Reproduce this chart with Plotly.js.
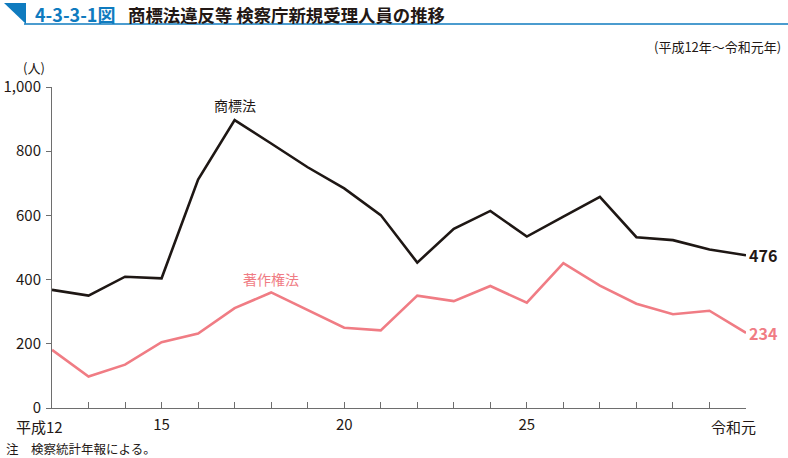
<!DOCTYPE html>
<html>
<head>
<meta charset="utf-8">
<script src="https://cdn.plot.ly/plotly-3.0.1.min.js"></script>
<style>body{margin:0;background:#fff;}#chart{width:788px;height:458px;}</style>
</head>
<body>
<div id="chart"></div>
<script>
var years = [2000,2001,2002,2003,2004,2005,2006,2007,2008,2009,2010,2011,2012,2013,2014,2015,2016,2017,2018,2019];
var trademark = [368,350,409,404,712,897,824,750,684,601,453,558,614,534,596,658,532,523,494,476];
var copyright = [181,98,135,205,232,311,360,305,250,242,350,333,380,328,451,381,325,292,303,234];
var tickVals = years;
var tickText = ['','','','15','','','','','20','','','','','25','','','','','',''];
var firstLabel = '平成12';
var lastLabel = '令和元';
var yTicks = [0,200,400,600,800,1000];
var yTickText = ['0','200','400','600','800','1,000'];

var F = '"Noto Sans CJK JP", "Noto Sans", sans-serif';
var L = 52, R = 746, T = 87, B = 408;
function px(x){ return (x - L) / (R - L); }
function py(y){ return (B - y) / (B - T); }

var black = '#1e1714', pink = '#f07c84', blue = '#0f7bbf', txt = '#231815';

var traces = [
  {x: years, y: trademark, type: 'scatter', mode: 'lines', line: {color: black, width: 2.6}, hoverinfo: 'skip'},
  {x: years, y: copyright, type: 'scatter', mode: 'lines', line: {color: pink, width: 2.6}, hoverinfo: 'skip'}
];

var layout = {
  width: 788, height: 458,
  margin: {l: L, r: 788 - R, t: T, b: 458 - B},
  paper_bgcolor: '#fff', plot_bgcolor: '#fff',
  showlegend: false,
  font: {family: F, color: txt},
  xaxis: {
    range: [2000, 2019], tickmode: 'array', tickvals: tickVals, ticktext: tickText,
    showgrid: false, zeroline: false, showline: true, linecolor: '#6e6e6e', linewidth: 1,
    ticks: 'inside', ticklen: 6, tickcolor: '#6e6e6e', tickfont: {size: 15, color: txt},
    ticklabelstandoff: 3,
    fixedrange: true
  },
  yaxis: {
    range: [0, 1000], tickmode: 'array', tickvals: yTicks, ticktext: yTickText,
    showgrid: false, zeroline: false, showline: true, linecolor: '#6e6e6e', linewidth: 1,
    ticks: 'outside', ticklen: 5, tickcolor: '#6e6e6e', tickfont: {size: 15, color: txt},
    ticklabelstandoff: 2,
    fixedrange: true
  },
  shapes: [
    {type: 'path', xref: 'paper', yref: 'paper',
     path: 'M ' + px(4) + ' ' + py(3) + ' L ' + px(26) + ' ' + py(3) + ' L ' + px(26) + ' ' + py(24) + ' Z',
     fillcolor: blue, line: {width: 0}},
    {type: 'line', xref: 'paper', yref: 'paper', x0: px(24), x1: px(788), y0: py(24), y1: py(24),
     line: {color: blue, width: 1.5}}
  ],
  annotations: [
    {xref: 'paper', yref: 'paper', x: px(33), y: py(14), xanchor: 'left', yanchor: 'middle', showarrow: false,
     text: '<b>4-3-3-1図</b>', font: {family: F, size: 18, color: blue}},
    {xref: 'paper', yref: 'paper', x: px(126), y: py(14), xanchor: 'left', yanchor: 'middle', showarrow: false,
     text: '<b>商標法違反等 検察庁新規受理人員の推移</b>', font: {family: F, size: 17.4, color: txt}},
    {xref: 'paper', yref: 'paper', x: px(783), y: py(47), xanchor: 'right', yanchor: 'middle', showarrow: false,
     text: '(平成12年～令和元年)', font: {family: F, size: 13, color: txt}},
    {xref: 'paper', yref: 'paper', x: px(46), y: py(67), xanchor: 'right', yanchor: 'middle', showarrow: false,
     borderpad: 0, text: '(人)', font: {family: F, size: 13, color: txt}},
    {xref: 'paper', yref: 'paper', x: px(39), y: py(426), xanchor: 'center', yanchor: 'middle', showarrow: false,
     borderpad: 0, text: firstLabel, font: {family: F, size: 15, color: txt}},
    {xref: 'paper', yref: 'paper', x: px(733), y: py(426), xanchor: 'center', yanchor: 'middle', showarrow: false,
     borderpad: 0, text: lastLabel, font: {family: F, size: 15, color: txt}},
    {xref: 'paper', yref: 'paper', x: px(235), y: py(105), xanchor: 'center', yanchor: 'middle', showarrow: false,
     text: '商標法', font: {family: F, size: 14, color: txt}},
    {xref: 'paper', yref: 'paper', x: px(271), y: py(279), xanchor: 'center', yanchor: 'middle', showarrow: false,
     text: '著作権法', font: {family: F, size: 14, color: pink}},
    {x: 2019, y: trademark[trademark.length - 1], xref: 'x', yref: 'y', xanchor: 'left', yanchor: 'middle', xshift: 1, showarrow: false,
     text: '<b>' + trademark[trademark.length - 1] + '</b>', font: {family: F, size: 16, color: txt}},
    {x: 2019, y: copyright[copyright.length - 1], xref: 'x', yref: 'y', xanchor: 'left', yanchor: 'middle', xshift: 1, showarrow: false,
     text: '<b>' + copyright[copyright.length - 1] + '</b>', font: {family: F, size: 16, color: pink}},
    {xref: 'paper', yref: 'paper', x: px(4), y: py(448), xanchor: 'left', yanchor: 'middle', showarrow: false,
     text: '注　検察統計年報による。', font: {family: F, size: 12.5, color: txt}}
  ]
};

Plotly.newPlot('chart', traces, layout, {staticPlot: true, displayModeBar: false});
</script>
</body>
</html>
